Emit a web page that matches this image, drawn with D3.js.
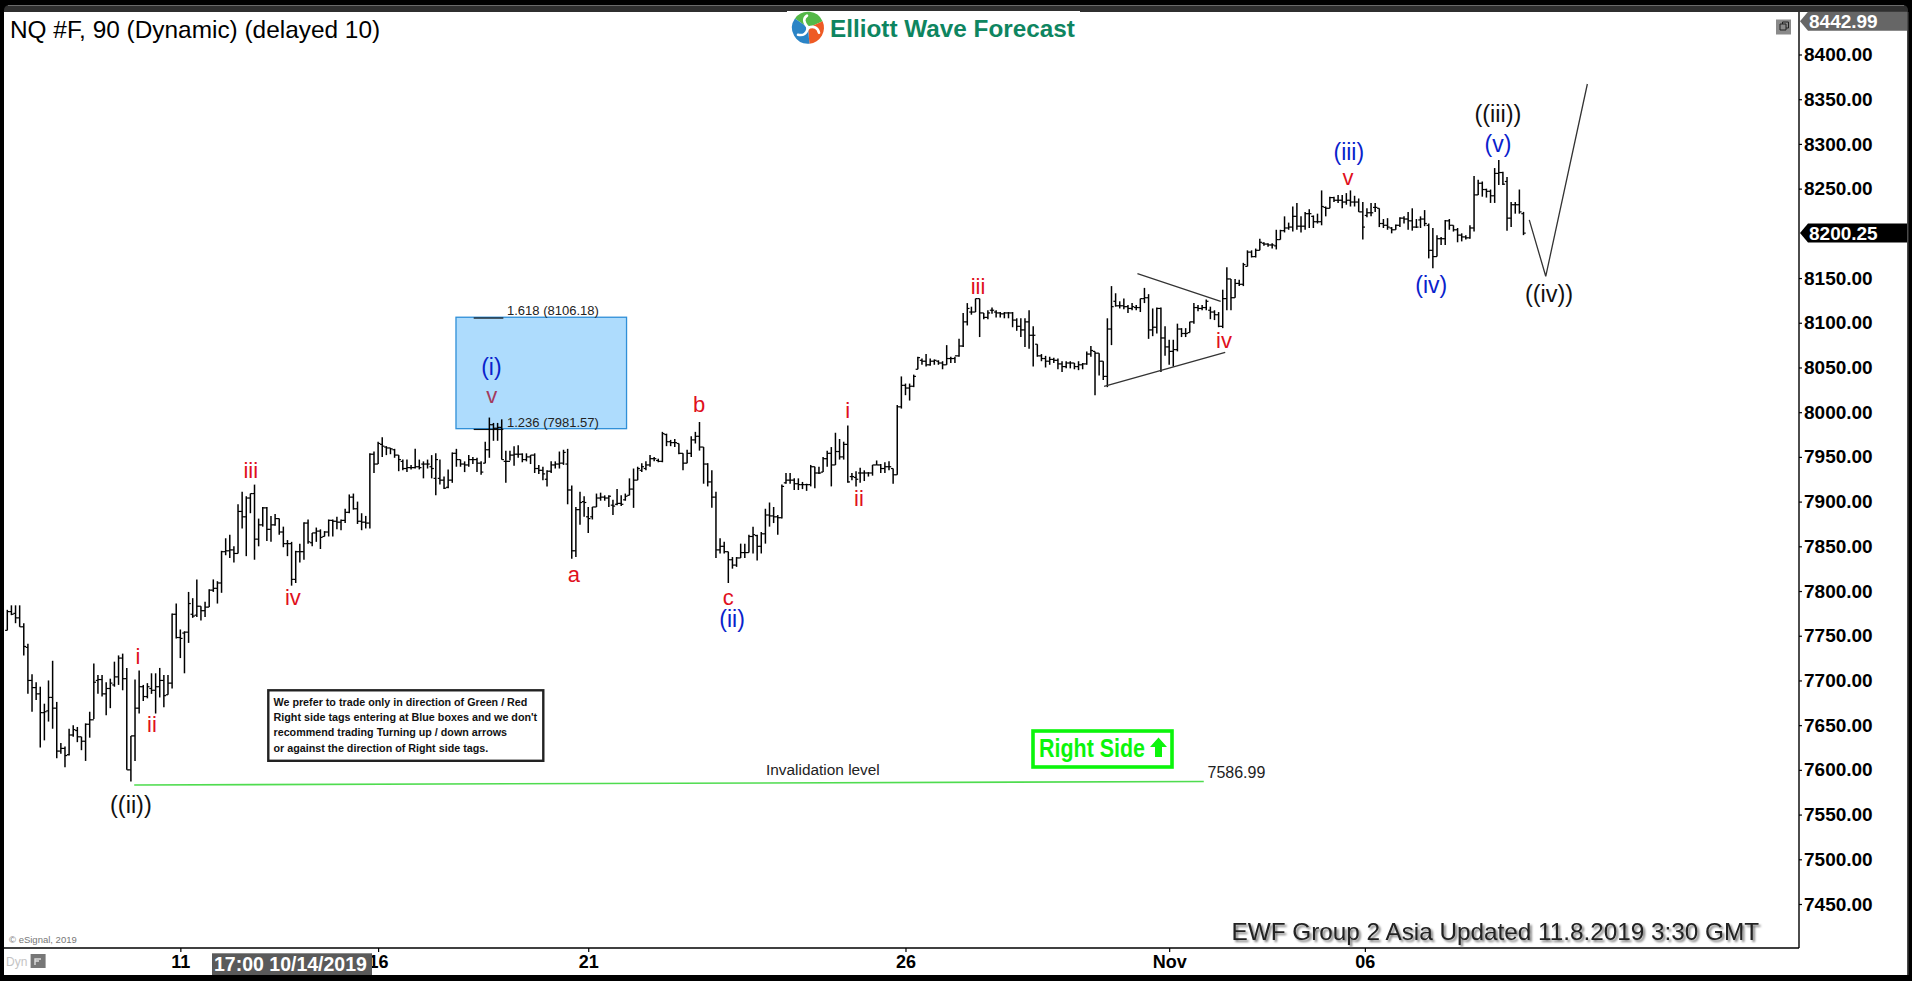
<!DOCTYPE html>
<html>
<head>
<meta charset="utf-8">
<title>NQ #F Elliott Wave</title>
<script src="https://cdn.jsdelivr.net/npm/d3@7"></script>
<style>
    html, body { margin: 0; padding: 0; background: #000; overflow: hidden; }
    svg { display: block; }
    text { font-family: "Liberation Sans", Arial, sans-serif; }
    .axis text { font-weight: bold; fill: #000; }
    .axis line { stroke: #000; stroke-width: 1.2; }
    .bar { stroke: #000; stroke-width: 1.5; fill: none; }
    .tick-oc { stroke: #000; stroke-width: 1.2; }
</style>
</head>
<body>
<div id="chart"></div>
<script>
// bars, 90 minute OHLC
let barHigh = [
    7779,7784,7784,7784,7764,7741,7707,7698,7693,7674,
    7700,7722,7676,7630,7626,7646,7650,7648,7637,7652,
    7665,7719,7706,7706,7698,7702,7721,7728,7730,7714,
    7638,7701,7711,7695,7697,7708,7708,7714,7706,7706,
    7775,7786,7757,7755,7799,7792,7813,7783,7788,7802,
    7813,7811,7845,7859,7863,7850,7897,7911,7906,7909,
    7919,7881,7894,7894,7884,7886,7881,7872,7857,7855,
    7845,7853,7877,7880,7865,7871,7869,7867,7880,7880,
    7883,7880,7892,7908,7909,7900,7887,7884,7954,7956,
    7967,7972,7962,7960,7959,7952,7947,7947,7941,7959,
    7947,7945,7947,7952,7954,7947,7928,7936,7955,7959,
    7947,7945,7952,7950,7949,7945,7967,7994,7988,7988,
    7992,7957,7957,7962,7963,7954,7954,7952,7954,7941,
    7939,7935,7945,7945,7956,7958,7959,7918,7894,7911,
    7906,7894,7894,7909,7910,7907,7907,7902,7914,7907,
    7909,7926,7937,7939,7943,7945,7952,7950,7948,7978,
    7976,7969,7970,7965,7954,7958,7973,7978,7989,7961,
    7943,7935,7911,7859,7855,7844,7838,7838,7853,7853,
    7863,7872,7863,7866,7892,7899,7894,7885,7919,7932,
    7932,7926,7926,7922,7920,7941,7939,7939,7950,7957,
    7961,7977,7970,7967,7985,7932,7934,7938,7935,7933,
    7941,7946,7942,7944,7945,7937,8008,8040,8032,8032,
    8042,8062,8060,8065,8060,8059,8058,8057,8075,8062,
    8062,8082,8111,8122,8118,8127,8127,8111,8114,8117,
    8114,8112,8112,8112,8112,8105,8105,8105,8114,8096,
    8076,8065,8063,8062,8061,8060,8057,8057,8057,8055,
    8057,8055,8068,8074,8068,8066,8057,8105,8141,8133,
    8124,8127,8120,8122,8120,8127,8139,8132,8116,8117,
    8117,8096,8081,8081,8099,8094,8094,8101,8122,8120,
    8120,8126,8118,8114,8112,8137,8162,8149,8149,8148,
    8167,8181,8181,8183,8194,8190,8189,8189,8204,8204,
    8219,8212,8230,8234,8219,8224,8227,8220,8222,8248,
    8230,8241,8241,8243,8243,8245,8248,8242,8239,8235,
    8228,8234,8234,8228,8216,8217,8207,8210,8218,8219,
    8224,8228,8216,8219,8226,8211,8206,8198,8196,8215,
    8216,8209,8206,8200,8198,8209,8264,8260,8258,8250,
    8249,8273,8282,8269,8263,8235,8235,8249,8224];
let barLow = [
    7756,7773,7764,7760,7728,7685,7665,7678,7625,7633,
    7654,7646,7613,7618,7603,7616,7637,7631,7622,7610,
    7636,7657,7685,7682,7661,7669,7693,7695,7689,7600,
    7587,7610,7663,7677,7680,7685,7663,7681,7670,7684,
    7691,7747,7725,7708,7742,7770,7771,7767,7771,7782,
    7799,7786,7798,7840,7837,7832,7842,7870,7839,7887,
    7835,7850,7872,7856,7855,7873,7863,7849,7839,7806,
    7809,7832,7835,7853,7850,7855,7847,7861,7861,7861,
    7869,7868,7876,7887,7891,7875,7868,7870,7870,7932,
    7942,7950,7952,7953,7949,7934,7935,7933,7936,7937,
    7936,7926,7937,7926,7907,7919,7914,7915,7921,7939,
    7939,7933,7939,7942,7933,7930,7943,7949,7968,7968,
    7947,7921,7946,7940,7949,7944,7945,7942,7932,7931,
    7924,7917,7932,7937,7937,7941,7897,7836,7838,7874,
    7883,7865,7880,7894,7901,7901,7894,7885,7896,7895,
    7901,7907,7893,7924,7933,7935,7939,7945,7944,7944,
    7962,7962,7961,7953,7935,7943,7950,7965,7957,7920,
    7917,7893,7837,7842,7842,7809,7825,7827,7837,7837,
    7843,7842,7834,7842,7853,7872,7876,7863,7881,7920,
    7920,7913,7913,7914,7912,7917,7915,7931,7933,7939,
    7917,7941,7947,7947,7921,7924,7917,7921,7923,7928,
    7929,7941,7932,7932,7935,7920,7930,8004,8019,8013,
    8028,8048,8053,8051,8052,8053,8053,8048,8053,8055,
    8055,8062,8073,8097,8109,8112,8084,8104,8104,8110,
    8106,8106,8105,8105,8095,8091,8084,8073,8071,8051,
    8062,8057,8050,8053,8055,8048,8045,8049,8049,8048,
    8047,8048,8053,8062,8019,8041,8036,8028,8075,8118,
    8116,8115,8111,8114,8114,8112,8122,8082,8085,8088,
    8045,8063,8053,8051,8068,8084,8084,8089,8099,8113,
    8114,8114,8104,8103,8095,8094,8114,8114,8128,8141,
    8141,8163,8173,8173,8181,8186,8185,8183,8182,8193,
    8201,8204,8202,8204,8201,8204,8206,8206,8211,8209,
    8219,8228,8235,8234,8228,8232,8230,8230,8224,8193,
    8218,8219,8224,8207,8206,8204,8200,8204,8207,8211,
    8204,8203,8206,8206,8208,8172,8161,8174,8187,8187,
    8204,8202,8190,8191,8193,8194,8202,8243,8241,8240,
    8234,8234,8254,8254,8203,8207,8222,8222,8198];
let barOpen = [
    7756,7777,7775,7770,7760,7737,7700,7692,7685,7664,
    7666,7681,7669,7621,7624,7617,7639,7644,7637,7632,
    7651,7656,7700,7701,7685,7691,7695,7704,7725,7702,
    7600,7638,7669,7693,7682,7691,7689,7693,7700,7684,
    7697,7774,7748,7753,7754,7774,7773,7783,7778,7782,
    7801,7803,7809,7844,7845,7846,7842,7889,7883,7904,
    7909,7858,7874,7893,7869,7874,7881,7866,7853,7853,
    7813,7844,7844,7876,7854,7865,7867,7861,7866,7879,
    7878,7877,7879,7888,7905,7892,7878,7877,7876,7953,
    7942,7964,7961,7960,7958,7952,7945,7937,7938,7938,
    7939,7942,7942,7939,7926,7926,7924,7916,7924,7954,
    7947,7942,7941,7947,7947,7943,7943,7958,7986,7982,
    7983,7945,7945,7952,7953,7953,7947,7950,7952,7937,
    7935,7925,7934,7941,7942,7943,7942,7913,7845,7891,
    7900,7883,7883,7894,7904,7905,7904,7896,7897,7898,
    7902,7907,7914,7924,7935,7937,7941,7948,7946,7945,
    7975,7967,7966,7965,7954,7943,7954,7969,7973,7961,
    7942,7922,7905,7846,7850,7844,7835,7829,7837,7843,
    7843,7861,7862,7850,7864,7885,7884,7883,7882,7921,
    7924,7924,7920,7919,7919,7919,7939,7932,7933,7948,
    7954,7941,7956,7950,7964,7928,7927,7932,7932,7932,
    7932,7941,7941,7937,7939,7937,7930,8006,8030,8027,
    8029,8048,8058,8057,8053,8057,8057,8055,8053,8060,
    8060,8063,8074,8101,8112,8112,8127,8111,8106,8114,
    8112,8111,8110,8111,8111,8103,8096,8092,8101,8086,
    8076,8063,8060,8057,8059,8058,8054,8051,8055,8055,
    8051,8053,8054,8065,8068,8066,8057,8040,8093,8124,
    8119,8119,8118,8116,8117,8117,8127,8128,8092,8095,
    8116,8083,8073,8068,8070,8093,8088,8089,8101,8117,
    8116,8117,8114,8112,8109,8096,8127,8149,8128,8144,
    8143,8163,8179,8174,8181,8189,8188,8187,8186,8193,
    8203,8206,8207,8219,8208,8208,8222,8219,8213,8213,
    8229,8228,8240,8237,8237,8235,8237,8235,8235,8224,
    8220,8223,8229,8228,8211,8209,8206,8204,8209,8217,
    8216,8214,8207,8215,8216,8209,8181,8174,8194,8194,
    8214,8209,8204,8198,8196,8195,8206,8243,8256,8249,
    8247,8242,8267,8268,8258,8217,8232,8232,8222];
let barClose = [
    7777,7774,7770,7760,7738,7700,7692,7685,7664,7665,
    7681,7669,7621,7624,7616,7639,7645,7637,7632,7651,
    7656,7698,7701,7685,7691,7697,7704,7725,7702,7600,
    7638,7669,7693,7682,7693,7689,7693,7700,7683,7697,
    7774,7748,7747,7754,7786,7772,7783,7778,7782,7801,
    7803,7809,7844,7845,7846,7842,7889,7883,7904,7909,
    7858,7874,7893,7869,7874,7881,7866,7853,7853,7813,
    7844,7844,7876,7855,7865,7867,7860,7866,7879,7878,
    7877,7879,7888,7905,7892,7878,7877,7876,7953,7942,
    7965,7962,7960,7959,7952,7947,7937,7938,7938,7939,
    7938,7942,7942,7937,7947,7924,7915,7924,7954,7947,
    7942,7941,7947,7947,7943,7933,7958,7986,7982,7983,
    7947,7945,7952,7953,7953,7947,7950,7952,7937,7935,
    7931,7934,7941,7942,7943,7955,7913,7845,7891,7899,
    7899,7881,7894,7904,7905,7904,7906,7895,7898,7897,
    7906,7914,7924,7937,7939,7941,7948,7948,7945,7976,
    7967,7966,7966,7954,7943,7954,7969,7973,7961,7942,
    7922,7905,7846,7850,7844,7835,7829,7837,7843,7843,
    7861,7863,7850,7864,7885,7884,7883,7882,7917,7924,
    7924,7920,7919,7919,7919,7939,7932,7932,7948,7954,
    7941,7956,7950,7964,7922,7928,7925,7932,7932,7932,
    7941,7941,7937,7939,7939,7930,8006,8030,8027,8029,
    8040,8061,8057,8053,8057,8058,8055,8053,8060,8060,
    8063,8074,8101,8116,8112,8127,8111,8106,8111,8114,
    8111,8110,8111,8111,8103,8096,8092,8101,8086,8086,
    8063,8060,8057,8059,8058,8054,8051,8055,8055,8051,
    8053,8054,8065,8069,8066,8057,8040,8093,8118,8119,
    8119,8118,8116,8118,8117,8127,8128,8092,8095,8116,
    8083,8073,8068,8070,8093,8088,8088,8101,8117,8116,
    8117,8124,8112,8109,8096,8127,8149,8128,8144,8143,
    8165,8179,8174,8181,8190,8188,8187,8187,8193,8203,
    8206,8207,8219,8208,8208,8222,8222,8213,8213,8230,
    8228,8240,8237,8237,8235,8237,8235,8235,8224,8207,
    8223,8223,8229,8211,8209,8207,8204,8209,8217,8216,
    8214,8207,8207,8216,8211,8181,8174,8194,8194,8214,
    8209,8204,8198,8196,8195,8206,8243,8256,8249,8247,
    8242,8267,8268,8255,8217,8232,8232,8224,8200.25];

// axes, the 8200 tick is hidden behind the last price tag
let priceTicks = d3.range(7450, 8401, 50).filter((d) => d !== 8200);
let dateTickBars = [42, 90, 141, 218, 282, 329.5];
let dateTickLabels = ["11", "16", "21", "26", "Nov", "06"];

// wave labels: text, bar index, price, degree
let waveText = ["((ii))", "i", "ii", "iii", "iv", "(i)", "v", "a", "b", "c", "(ii)", "i", "ii", "iii", "iv", "v", "(iii)", "(iv)", "(v)", "((iii))", "((iv))"];
let waveBar = [30, 31.7, 35.1, 59.1, 69.3, 117.5, 117.6, 137.5, 167.9, 175, 175.9, 204, 206.7, 235.6, 295.3, 325.4, 325.6, 345.6, 361.8, 361.8, 374.2];
let wavePrice = [7560, 7727, 7651, 7935, 7792, 8050, 8018, 7818, 8008, 7792, 7768, 8002, 7903, 8140, 8080, 8262, 8290, 8142, 8299, 8333, 8132];
let waveDegree = ["major", "minor", "minor", "minor", "minor", "inter", "boxed", "minor", "minor", "minor", "inter", "minor", "minor", "minor", "minor", "minor", "inter", "inter", "inter", "major", "major"];

// drawn lines, [bar, price] pairs
let triangleUpper = [[274.3, 8155], [294.5, 8124]];
let triangleLower = [[266.2, 8029], [295.6, 8067]];
let projection = [[369.4, 8215], [373.4, 8152], [383.5, 8367]];
let invalidation = [[30.8, 7583], [290.4, 7587]];
let invalidationLevel = 7586.99;

// fibonacci blue box
let fibLevels = [1.618, 1.236];
let fibPrices = [8106.18, 7981.57];
let fibBoxBars = [108.9, 150.3];
let fibTickBars = [113.2, 120.4];

let lastPrice = 8200.25;
let topPrice = 8442.99;

let noteLines = ["We prefer to trade only in direction of Green / Red",
    "Right side tags entering at Blue boxes and we don't",
    "recommend trading Turning up / down arrows",
    "or against the direction of Right side tags."];
let noteWidths = [253.9, 263.7, 233.5, 214.7];

let width = 1912, height = 981;

let x = d3.scaleLinear().domain([0, barHigh.length - 1]).range([7.3, 1523.5]);
let y = d3.scaleLinear().domain([7450, 8400]).range([904, 54.5]);

let svg = d3.select("#chart").append("svg")
    .attr("width", width)
    .attr("height", height);

// window frame
svg.append("rect").attr("width", width).attr("height", height).attr("fill", "#000");
svg.append("rect").attr("x", 4).attr("y", 5).attr("width", 1904).attr("height", 20).attr("rx", 5).attr("fill", "#2f2f2f");
svg.append("line").attr("x1", 8).attr("x2", 1904).attr("y1", 5.5).attr("y2", 5.5).attr("stroke", "#6a6a6a");
svg.append("rect").attr("x", 1907).attr("y", 12).attr("width", 1.5).attr("height", 963).attr("fill", "#4a4a4a");
svg.append("rect").attr("x", 4).attr("y", 12).attr("width", 1903).attr("height", 963).attr("fill", "#fff");
svg.append("rect").attr("x", 787).attr("y", 11).attr("width", 293).attr("height", 2).attr("fill", "#fff");

// blue box and its fib lines
svg.append("rect")
    .attr("x", x(fibBoxBars[0]))
    .attr("y", y(fibPrices[0]))
    .attr("width", x(fibBoxBars[1]) - x(fibBoxBars[0]))
    .attr("height", y(fibPrices[1]) - y(fibPrices[0]))
    .attr("fill", "#aedcfd")
    .attr("stroke", "#2f8fd8")
    .attr("stroke-width", 1.3);

svg.selectAll("line.fib")
    .data(fibPrices)
    .enter().append("line")
    .attr("class", "fib")
    .attr("x1", x(fibTickBars[0]))
    .attr("x2", x(fibTickBars[1]))
    .attr("y1", (d) => y(d) + 0.8)
    .attr("y2", (d) => y(d) + 0.8)
    .attr("stroke", "#111")
    .attr("stroke-width", 1.2);

svg.selectAll("text.fib")
    .data(fibPrices)
    .enter().append("text")
    .attr("class", "fib")
    .attr("x", 507)
    .attr("y", (d) => y(d))
    .attr("dy", -2)
    .attr("font-size", 13)
    .attr("fill", "#222")
    .text((d, i) => fibLevels[i].toFixed(3) + " (" + d.toFixed(2) + ")");

// OHLC bars
let bars = svg.append("g").selectAll("g")
    .data(d3.range(barHigh.length))
    .enter().append("g");

bars.append("line")
    .attr("class", "bar")
    .attr("x1", (i) => x(i))
    .attr("x2", (i) => x(i))
    .attr("y1", (i) => y(barHigh[i]))
    .attr("y2", (i) => y(barLow[i]));

bars.append("line")
    .attr("class", "tick-oc")
    .attr("x1", (i) => x(i) - 2.2)
    .attr("x2", (i) => x(i))
    .attr("y1", (i) => y(barOpen[i]))
    .attr("y2", (i) => y(barOpen[i]));

bars.append("line")
    .attr("class", "tick-oc")
    .attr("x1", (i) => x(i))
    .attr("x2", (i) => x(i) + 2.2)
    .attr("y1", (i) => y(barClose[i]))
    .attr("y2", (i) => y(barClose[i]));

// hand drawn lines
let line = d3.line().x((d) => x(d[0])).y((d) => y(d[1]));

svg.selectAll("path.drawn")
    .data([triangleUpper, triangleLower, projection])
    .enter().append("path")
    .attr("class", "drawn")
    .attr("d", line)
    .attr("fill", "none")
    .attr("stroke", "#333")
    .attr("stroke-width", 1.3);

svg.append("path")
    .datum(invalidation)
    .attr("d", line)
    .attr("fill", "none")
    .attr("stroke", "#4fdc4f")
    .attr("stroke-width", 1.6);

svg.append("text")
    .attr("x", 766).attr("y", 775)
    .attr("font-size", 15.4)
    .attr("fill", "#222")
    .text("Invalidation level");

svg.append("text")
    .attr("x", 1207.5).attr("y", 778)
    .attr("font-size", 16)
    .attr("fill", "#222")
    .text(invalidationLevel.toFixed(2));

// wave labels
let degreeColor = {major: "#111", inter: "#0a22cc", minor: "#e0101c", boxed: "#a33a5e"};
let degreeSize = {major: 23.5, inter: 23, minor: 22, boxed: 22};

svg.append("g").selectAll("text")
    .data(waveText)
    .enter().append("text")
    .attr("x", (d, i) => x(waveBar[i]))
    .attr("y", (d, i) => y(wavePrice[i]))
    .attr("dy", "0.33em")
    .attr("text-anchor", "middle")
    .attr("font-size", (d, i) => degreeSize[waveDegree[i]])
    .attr("fill", (d, i) => degreeColor[waveDegree[i]])
    .text((d) => d);

// note box
svg.append("rect")
    .attr("x", 268.3).attr("y", 690.3)
    .attr("width", 275).attr("height", 70.5)
    .attr("fill", "#fff")
    .attr("stroke", "#222")
    .attr("stroke-width", 2.4);

svg.append("g").selectAll("text")
    .data(noteLines)
    .enter().append("text")
    .attr("x", 273.5)
    .attr("y", (d, i) => 706 + i * 15.2)
    .attr("font-size", 11.8)
    .attr("font-weight", "bold")
    .attr("fill", "#111")
    .attr("textLength", (d, i) => noteWidths[i])
    .attr("lengthAdjust", "spacingAndGlyphs")
    .text((d) => d);

// right side tag
svg.append("rect")
    .attr("x", 1033).attr("y", 731)
    .attr("width", 139).attr("height", 36)
    .attr("fill", "#fff")
    .attr("stroke", "#0bf50b")
    .attr("stroke-width", 3.6);

svg.append("text")
    .attr("x", 1039).attr("y", 757)
    .attr("font-size", 25)
    .attr("font-weight", "bold")
    .attr("fill", "#0bf50b")
    .attr("textLength", 106)
    .attr("lengthAdjust", "spacingAndGlyphs")
    .text("Right Side");

svg.append("path")
    .attr("d", "M1158.5,737.5 L1167,747 L1162,747 L1162,757 L1155,757 L1155,747 L1150,747 Z")
    .attr("fill", "#0bf50b");

// price axis
svg.append("g")
    .attr("class", "axis")
    .attr("transform", "translate(1799,0)")
    .call(d3.axisRight(y).tickValues(priceTicks).tickSize(3).tickPadding(2).tickFormat(d3.format(".2f")))
    .call((g) => g.select(".domain").remove())
    .selectAll("text").attr("font-size", 19);

svg.append("line").attr("x1", 1799).attr("x2", 1799).attr("y1", 12).attr("y2", 948).attr("stroke", "#000").attr("stroke-width", 1.4);

// date axis
svg.append("g")
    .attr("class", "axis")
    .attr("transform", "translate(0,948)")
    .call(d3.axisBottom(x).tickValues(dateTickBars).tickSize(4).tickPadding(3)
        .tickFormat((d, i) => dateTickLabels[i]))
    .call((g) => g.select(".domain").remove())
    .selectAll("text").attr("font-size", 18);

svg.append("line").attr("x1", 4).attr("x2", 1799).attr("y1", 948).attr("y2", 948).attr("stroke", "#000").attr("stroke-width", 1.4);

// crosshair date tag sits over the axis
svg.append("rect").attr("x", 212).attr("y", 953.3).attr("width", 160).attr("height", 21.7).attr("fill", "#5a5a5a");
svg.append("text")
    .attr("x", 214).attr("y", 971)
    .attr("font-size", 19.5)
    .attr("font-weight", "bold")
    .attr("fill", "#fff")
    .text("17:00 10/14/2019");

// price tags
function priceTag(cy, fill, label) {
    svg.append("path")
        .attr("d", d3.line()([[1800, cy], [1808, cy - 9.5], [1907, cy - 9.5], [1907, cy + 9.5], [1808, cy + 9.5]]) + "Z")
        .attr("fill", fill);
    svg.append("text")
        .attr("x", 1809).attr("y", cy + 6.8)
        .attr("font-size", 19)
        .attr("font-weight", "bold")
        .attr("fill", "#fff")
        .text(label);
}
priceTag(21.3, "#666", topPrice.toFixed(2));
priceTag(y(lastPrice), "#000", lastPrice.toFixed(2));

// title and stamps
svg.append("text")
    .attr("x", 10).attr("y", 38)
    .attr("font-size", 24.4)
    .attr("fill", "#000")
    .text("NQ #F, 90 (Dynamic) (delayed 10)");

svg.append("text")
    .attr("x", 1231.5).attr("y", 940)
    .attr("font-size", 24)
    .attr("fill", "#222")
    .attr("textLength", 527.6)
    .attr("lengthAdjust", "spacingAndGlyphs")
    .style("filter", "drop-shadow(2px 2px 1px #777)")
    .text("EWF Group 2 Asia Updated 11.8.2019 3:30 GMT");

svg.append("text")
    .attr("x", 9).attr("y", 943)
    .attr("font-size", 9.5)
    .attr("fill", "#777")
    .text("© eSignal, 2019");

svg.append("text")
    .attr("x", 6).attr("y", 966)
    .attr("font-size", 12)
    .attr("fill", "#c4c4c4")
    .text("Dyn");

svg.append("rect").attr("x", 30.6).attr("y", 954).attr("width", 15).attr("height", 14).attr("fill", "#777");
svg.append("path").attr("d", "M35,965 V959 H41 M35,961 H39").attr("fill", "none").attr("stroke", "#ddd").attr("stroke-width", 1.4);

// restore icon
svg.append("rect").attr("x", 1776).attr("y", 19.5).attr("width", 15).attr("height", 15).attr("fill", "#8a8a8a");
svg.append("path").attr("d", "M1780,24 H1786 V30 H1780 Z M1782.5,24 V22 H1788.5 V28 H1786").attr("fill", "none").attr("stroke", "#222");

// logo, three coloured blades with white swirl cuts
let logo = svg.append("g").attr("transform", "translate(808,27.7)");
let logoArc = d3.arc().innerRadius(2).outerRadius(16);
[["#54b848", -0.95, 1.15], ["#ee5a24", 1.15, 3.05], ["#2b84c6", 3.05, 5.33]].forEach(function (s) {
    logo.append("path")
        .attr("d", logoArc({startAngle: s[1], endAngle: s[2]}))
        .attr("fill", s[0]);
});
["M0,0 Q-7,-8 -1,-12", "M0,0 Q9,-3 11,5", "M0,0 Q-2,9 -10,7"].forEach(function (p) {
    logo.append("path")
        .attr("d", p)
        .attr("fill", "none")
        .attr("stroke", "#fff")
        .attr("stroke-width", 2.6)
        .attr("stroke-linecap", "round");
});

svg.append("text")
    .attr("x", 830).attr("y", 37)
    .attr("font-size", 24.3)
    .attr("font-weight", "bold")
    .attr("fill", "#0e8560")
    .text("Elliott Wave Forecast");
</script>
</body>
</html>
